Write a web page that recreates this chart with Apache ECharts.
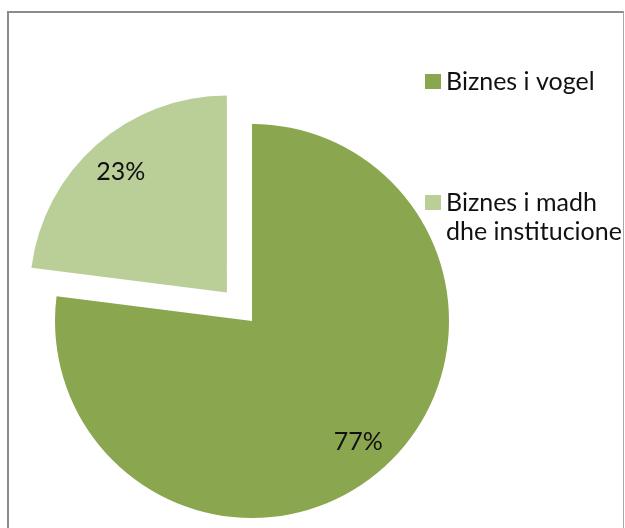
<!DOCTYPE html>
<html>
<head>
<meta charset="utf-8">
<script src="https://cdn.jsdelivr.net/npm/echarts@6/dist/echarts.min.js"></script>
<style>
html,body{margin:0;padding:0;background:#fff;width:625px;height:528px;overflow:hidden}
#frame{position:absolute;left:7px;top:11px;width:617px;height:560px;box-sizing:border-box;border-left:2px solid #8c8c8c;border-top:2px solid #8c8c8c;border-right:1px solid #a8a8a8}
#c{position:absolute;left:0;top:0;width:625px;height:528px}
</style>
</head>
<body>
<div id="frame"></div>
<div id="c"></div>
<script>
const categories = ['Biznes i vogel', 'Biznes i madh dhe institucione'];
const values = [77, 23];
const colors = ['#8aa64e', '#bacf97'];
const legendLabels = ['Biznes i vogel', 'Biznes i madh\ndhe institucione'];

const FONT = 'Lato';
const R = 197;
const center = [252, 321];
const explode = 38;

const pieData = categories.map((name, i) => ({
  name: name,
  value: values[i],
  selected: i === 1,
  itemStyle: { color: colors[i] }
}));

const labelData = categories.map((name, i) => ({
  name: name,
  value: values[i],
  selected: i === 1,
  itemStyle: { color: 'rgba(0,0,0,0)' }
}));

const chart = echarts.init(document.getElementById('c'), null, { renderer: 'canvas' });
chart.setOption({
  animation: false,
  backgroundColor: 'transparent',
  color: colors,
  legend: [
    {
      orient: 'vertical',
      left: 425, top: 69,
      padding: 0,
      itemWidth: 16, itemHeight: 15,
      icon: 'rect',
      data: [categories[0]],
      selectedMode: false,
      itemStyle: { borderWidth: 0 },
      formatter: function (n) { return legendLabels[categories.indexOf(n)]; },
      textStyle: { fontFamily: FONT, fontSize: 25, color: '#111' }
    },
    {
      orient: 'vertical',
      left: 425, top: 188,
      padding: 0,
      itemWidth: 16, itemHeight: 44,
      data: [{ name: categories[1], icon: 'path://M0,0H16V15H0Z M0,44L0,44' }],
      selectedMode: false,
      itemStyle: { borderWidth: 0 },
      formatter: function (n) { return legendLabels[categories.indexOf(n)]; },
      textStyle: { fontFamily: FONT, fontSize: 25, lineHeight: 29, color: '#111' }
    }
  ],
  series: [
    {
      type: 'pie',
      center: center,
      radius: [0, R],
      startAngle: 90,
      clockwise: true,
      selectedMode: 'single',
      selectedOffset: explode,
      avoidLabelOverlap: false,
      itemStyle: { borderWidth: 0 },
      label: { show: false },
      labelLine: { show: false },
      emphasis: { disabled: true },
      data: pieData
    },
    {
      type: 'pie',
      center: center,
      radius: [R * 0.6, R],
      startAngle: 90,
      clockwise: true,
      selectedMode: 'single',
      selectedOffset: explode,
      silent: true,
      avoidLabelOverlap: false,
      itemStyle: { borderWidth: 0 },
      label: {
        show: true,
        position: 'inside',
        formatter: '{d}%',
        fontFamily: FONT,
        fontSize: 25,
        color: '#111'
      },
      labelLine: { show: false },
      emphasis: { disabled: true },
      data: labelData
    }
  ]
});
</script>
</body>
</html>
